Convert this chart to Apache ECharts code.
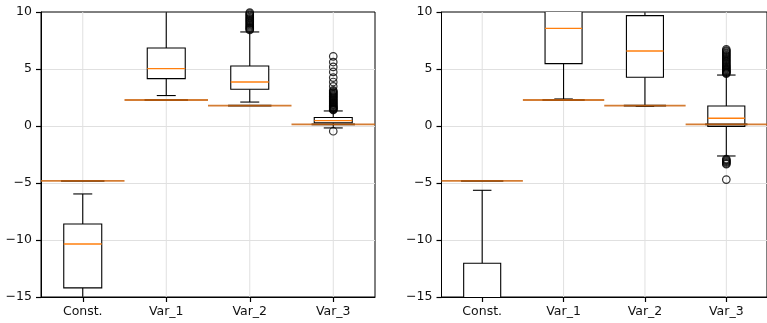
<!DOCTYPE html>
<html>
<head>
<meta charset="utf-8">
<script src="https://cdn.jsdelivr.net/npm/echarts@6/dist/echarts.min.js"></script>
<style>
  html, body { margin: 0; padding: 0; background: #fff; }
  #chart { width: 767px; height: 323px; }
</style>
</head>
<body>
<div id="chart"></div>
<script>
// Category names along both x axes
const categories = ['Const.', 'Var_1', 'Var_2', 'Var_3'];

// y axis ticks
const yMin = -15;
const yMax = 10;
const yStep = 5;

// Left panel, per category: [lower whisker, Q1, median, Q3, upper whisker]
const leftConst = [-22, -14.2, -10.35, -8.6, -5.96];
const leftVar1 = [2.67, 4.16, 5.03, 6.84, 13.0];
const leftVar2 = [2.1, 3.22, 3.86, 5.26, 8.25];
const leftVar3 = [-0.17, 0.28, 0.47, 0.75, 1.32];

// Right panel, per category: [lower whisker, Q1, median, Q3, upper whisker]
const rightConst = [-30, -20, -17, -12.04, -5.64];
const rightVar1 = [2.37, 5.47, 8.57, 11.8, 18.0];
const rightVar2 = [1.73, 4.27, 6.58, 9.68, 13.5];
const rightVar3 = [-2.63, -0.03, 0.68, 1.75, 4.47];

// Reference value for each category (same in both panels)
const trueValues = [-4.82, 2.28, 1.79, 0.15];

// Outliers
const leftOutVar2 = [8.42, 8.5, 8.58, 8.66, 8.75, 8.85, 8.95, 9.05, 9.15, 9.25, 9.35, 9.45,
  9.55, 9.65, 9.75, 9.85, 9.95, 10.1, 10.3];
const leftOutVar3 = [-0.46, 1.4, 1.45, 1.5, 1.55, 1.6, 1.66, 1.72, 1.78, 1.85, 1.92, 2.0,
  2.08, 2.16, 2.24, 2.32, 2.4, 2.48, 2.56, 2.64, 2.72, 2.8, 2.88, 2.96, 3.04, 3.12,
  3.48, 3.86, 4.25, 4.74, 5.18, 5.61, 6.11];
const rightOutVar3 = [-4.7, -3.35, -3.28, -3.2, -3.12, -3.05, -2.98, -2.9,
  4.6, 4.66, 4.72, 4.78, 4.85, 4.92, 5.0, 5.08, 5.16, 5.24, 5.32, 5.42, 5.52, 5.62,
  5.72, 5.82, 5.92, 6.02, 6.12, 6.22, 6.32, 6.42, 6.52, 6.62, 6.72];

const FONT = 'DejaVu Sans';
const boxFrac = 0.455;

function boxData(stats) {
  return stats.map((s, i) => [i].concat(s));
}
function outlierData(list, idx) {
  return list.map(v => [idx, v]);
}

function renderBox(params, api) {
  const x = api.value(0);
  const band = api.size([1, 0])[0];
  const half = band * boxFrac / 2;
  const cap = half / 2;
  const pLo = api.coord([x, api.value(1)]);
  const pQ1 = api.coord([x, api.value(2)]);
  const pMed = api.coord([x, api.value(3)]);
  const pQ3 = api.coord([x, api.value(4)]);
  const pHi = api.coord([x, api.value(5)]);
  const cx = pLo[0];
  const black = { stroke: '#000', lineWidth: 1.1 };
  return {
    type: 'group',
    children: [
      { type: 'line', shape: { x1: cx, y1: pLo[1], x2: cx, y2: pQ1[1] }, style: black },
      { type: 'line', shape: { x1: cx, y1: pQ3[1], x2: cx, y2: pHi[1] }, style: black },
      { type: 'line', shape: { x1: cx - cap, y1: pLo[1], x2: cx + cap, y2: pLo[1] }, style: black },
      { type: 'line', shape: { x1: cx - cap, y1: pHi[1], x2: cx + cap, y2: pHi[1] }, style: black },
      { type: 'rect', shape: { x: cx - half, y: pQ3[1], width: 2 * half, height: pQ1[1] - pQ3[1] },
        style: { fill: '#fff', stroke: '#000', lineWidth: 1.1 } },
      { type: 'line', shape: { x1: cx - half, y1: pMed[1], x2: cx + half, y2: pMed[1] },
        style: { stroke: '#ff7f0e', lineWidth: 1.3 } }
    ]
  };
}

function renderTrue(params, api) {
  const x = api.value(0);
  const band = api.size([1, 0])[0];
  const p = api.coord([x, api.value(1)]);
  const inner = band * 0.26;
  return {
    type: 'group',
    children: [
      { type: 'line', shape: { x1: p[0] - inner, y1: p[1], x2: p[0] + inner, y2: p[1] },
        style: { stroke: '#000', lineWidth: 1.8 } },
      { type: 'line', shape: { x1: p[0] - band / 2, y1: p[1], x2: p[0] + band / 2, y2: p[1] },
        style: { stroke: 'rgba(204,102,17,0.85)', lineWidth: 1.8 } }
    ]
  };
}

function renderVGrid(params, api) {
  const x = api.value(0);
  const a = api.coord([x, yMin]);
  const b = api.coord([x, yMax]);
  return { type: 'line', shape: { x1: a[0], y1: a[1], x2: b[0], y2: b[1] },
    style: { stroke: '#e0e0e0', lineWidth: 1 } };
}

const minus = v => String(v).replace('-', '\u2212');

function xAxisFor(gi) {
  return {
    type: 'category', gridIndex: gi, data: categories,
    axisLine: { show: true, onZero: false, lineStyle: { color: '#000', width: 1 } },
    axisTick: { show: true, alignWithLabel: true, length: 5, lineStyle: { color: '#000', width: 1.2 } },
    axisLabel: { fontFamily: FONT, fontSize: 12.5, color: '#111', margin: 8 },
    splitLine: { show: false }
  };
}
function yAxisFor(gi) {
  return {
    type: 'value', gridIndex: gi, min: yMin, max: yMax, interval: yStep,
    axisLine: { show: true, onZero: false, lineStyle: { color: '#000', width: 1 } },
    axisTick: { show: true, length: 5, lineStyle: { color: '#000', width: 1.2 } },
    axisLabel: { fontFamily: FONT, fontSize: 12.5, color: '#111', margin: 9, formatter: minus },
    splitLine: { show: true, showMinLine: false, showMaxLine: false, lineStyle: { color: '#e0e0e0', width: 1 } }
  };
}

function panelSeries(gi, stats, outliers) {
  const catIdx = categories.map((c, i) => [i]);
  const out = [];
  out.push({ type: 'custom', xAxisIndex: gi, yAxisIndex: gi, z: 1, silent: true,
    renderItem: renderVGrid, data: catIdx, encode: { x: 0 } });
  out.push({ type: 'custom', xAxisIndex: gi, yAxisIndex: gi, z: 2, clip: true,
    renderItem: renderBox, data: boxData(stats), encode: { x: 0, y: [1, 2, 3, 4, 5] } });
  out.push({ type: 'custom', xAxisIndex: gi, yAxisIndex: gi, z: 3, clip: true,
    renderItem: renderTrue, data: trueValues.map((v, i) => [i, v]), encode: { x: 0, y: 1 } });
  out.push({ type: 'scatter', xAxisIndex: gi, yAxisIndex: gi, z: 4, clip: true,
    symbol: 'circle', symbolSize: 7.5,
    itemStyle: { color: 'rgba(0,0,0,0)', borderColor: '#000', borderWidth: 1.2 },
    data: outliers });
  return out;
}

const chart = echarts.init(document.getElementById('chart'), null, { renderer: 'canvas' });
chart.setOption({
  animation: false,
  backgroundColor: '#fff',
  grid: [
    { left: 41, top: 12, width: 334, height: 285, show: true, borderColor: '#000', borderWidth: 1, backgroundColor: 'transparent' },
    { left: 441.5, top: 12, width: 333.5, height: 285, show: true, borderColor: '#000', borderWidth: 1, backgroundColor: 'transparent' }
  ],
  xAxis: [xAxisFor(0), xAxisFor(1)],
  yAxis: [yAxisFor(0), yAxisFor(1)],
  series: [].concat(
    panelSeries(0, [leftConst, leftVar1, leftVar2, leftVar3],
      outlierData(leftOutVar2, 2).concat(outlierData(leftOutVar3, 3))),
    panelSeries(1, [rightConst, rightVar1, rightVar2, rightVar3],
      outlierData(rightOutVar3, 3))
  )
});
</script>
</body>
</html>
